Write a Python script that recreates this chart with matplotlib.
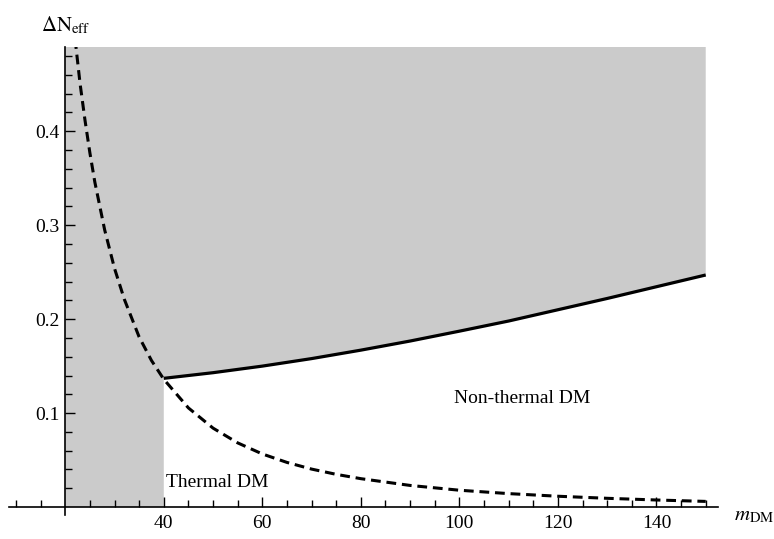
import numpy as np
import matplotlib.pyplot as plt
from matplotlib.ticker import FixedLocator, NullFormatter

plt.rcParams['font.family'] = ['Liberation Serif', 'DejaVu Serif']
plt.rcParams['mathtext.fontset'] = 'stix'

# dashed curve (thermal relic line)
m_dash = [22, 23, 24, 25, 26, 28, 30, 32, 35, 37.5, 40, 45, 50, 55, 60, 65,
          70, 75, 80, 90, 100, 110, 120, 130, 140, 150]
dn_dash = [0.498, 0.451, 0.412, 0.377, 0.346, 0.295, 0.254, 0.221, 0.181,
           0.156, 0.136, 0.1055, 0.0840, 0.0683, 0.0565, 0.0475, 0.0404,
           0.0348, 0.0302, 0.0230, 0.0179, 0.0143, 0.0115, 0.0093, 0.0075,
           0.0060]

# solid curve (lower edge of excluded region)
m_solid = [40, 50, 60, 70, 80, 90, 100, 110, 120, 130, 140, 150]
dn_solid = [0.137, 0.143, 0.150, 0.158, 0.167, 0.1767, 0.1872, 0.198, 0.210,
            0.222, 0.2345, 0.247]

x_major = [40, 60, 80, 100, 120, 140]
x_minor = [10, 15, 25, 30, 35, 45, 50, 55, 65, 70, 75, 85, 90, 95, 105, 110,
           115, 125, 130, 135, 145, 150]
y_major = [0.1, 0.2, 0.3, 0.4]
y_minor = [0.02, 0.04, 0.06, 0.08, 0.12, 0.14, 0.16, 0.18, 0.22, 0.24, 0.26,
           0.28, 0.32, 0.34, 0.36, 0.38, 0.42, 0.44, 0.46, 0.48]

ytop = 0.49
gray = '#cbcbcb'

fig = plt.figure(figsize=(7.74, 5.39), dpi=100)
ax = fig.add_axes([0.0111, 0.0436, 0.9166, 0.8698])

# shaded region: strip 20-40 plus everything above the solid curve
poly_x = [20, 40] + m_solid + [m_solid[-1], 20]
poly_y = [0, 0] + dn_solid + [ytop, ytop]
ax.fill(poly_x, poly_y, color=gray, lw=0, zorder=0)

# curves
ax.plot(m_solid, dn_solid, color='black', lw=2.3, solid_capstyle='butt')
ax.plot(m_dash, dn_dash, color='black', lw=2.2, dashes=(3.2, 1.9))

ax.set_xlim(8.5, 152.5)
ax.set_ylim(-0.009, ytop)

# Mathematica style axes crossing at (20, 0)
ax.spines['left'].set_position(('data', 20))
ax.spines['bottom'].set_position(('data', 0))
ax.spines['top'].set_visible(False)
ax.spines['right'].set_visible(False)
for s in ['left', 'bottom']:
    ax.spines[s].set_linewidth(1.2)
    ax.spines[s].set_zorder(3)

ax.xaxis.set_major_locator(FixedLocator(x_major))
ax.xaxis.set_minor_locator(FixedLocator(x_minor))
ax.yaxis.set_major_locator(FixedLocator(y_major))
ax.yaxis.set_minor_locator(FixedLocator(y_minor))
ax.set_xticklabels([str(v) for v in x_major])
ax.set_yticklabels(['%.1f' % v for v in y_major])
ax.xaxis.set_minor_formatter(NullFormatter())
ax.yaxis.set_minor_formatter(NullFormatter())

ax.tick_params(which='both', direction='in', width=1.0, labelsize=14,
               colors='black')
ax.tick_params(which='major', length=7)
ax.tick_params(which='minor', length=5)
ax.tick_params(axis='x', which='major', pad=6)
ax.tick_params(axis='y', which='major', pad=4)

# region labels
ax.text(40.4, 0.026, 'Thermal DM', fontsize=14, ha='left', va='center')
ax.text(112.8, 0.116, 'Non-thermal DM', fontsize=14, ha='center', va='center')

# axis labels
fig.text(66 / 774, 0.952, r'$\Delta\mathrm{N}_{\mathrm{eff}}$', fontsize=15,
         ha='center', va='center')
fig.text(734 / 774, 0.043, r'$m_{\mathrm{DM}}$', fontsize=15,
         ha='left', va='center')

plt.savefig('out.png', dpi=100)
